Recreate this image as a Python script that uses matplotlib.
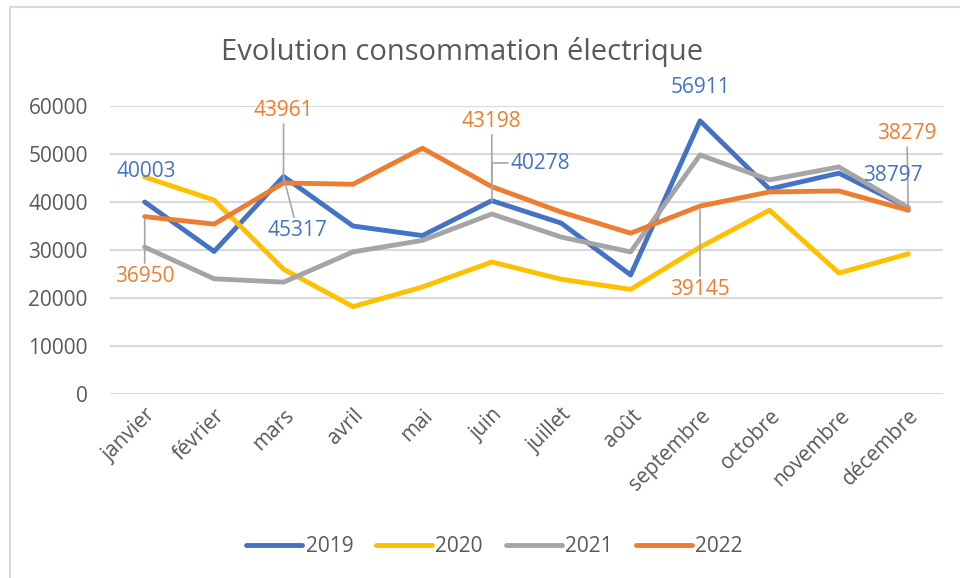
import matplotlib.pyplot as plt
from matplotlib.lines import Line2D

plt.rcParams['font.family'] = ['Open Sans', 'DejaVu Sans']

months = ["janvier", "février", "mars", "avril", "mai", "juin", "juillet",
          "août", "septembre", "octobre", "novembre", "décembre"]
years = ["2019", "2020", "2021", "2022"]
v2019 = [40003, 29700, 45317, 35000, 33000, 40278, 35600, 24800, 56911, 42700, 46000, 38797]
v2020 = [45200, 40400, 26000, 18200, 22300, 27500, 23900, 21800, 30600, 38300, 25200, 29200]
v2021 = [30600, 24000, 23300, 29600, 32000, 37500, 32700, 29600, 49800, 44600, 47300, 38800]
v2022 = [36950, 35400, 43961, 43700, 51200, 43198, 37900, 33500, 39145, 42100, 42300, 38279]
colors = ["#4472C4", "#FFC000", "#A5A5A5", "#ED7D31"]

# labelled points: (series index, month index, text offset in points, leader style)
labels = [
    (0, 0, (1, 22), None),
    (3, 0, (0, -43), "straight"),
    (3, 2, (0, 52), "straight"),
    (0, 2, (10, -39), "straight"),
    (3, 5, (0, 47), "straight"),
    (0, 5, (35, 27), "elbow"),
    (0, 8, (0, 24), None),
    (3, 8, (0, -60), "straight"),
    (3, 11, (-1, 55), "straight"),
    (0, 11, (-11, 23), None),
]

fig = plt.figure(figsize=(9.6, 5.78), dpi=100)
ax = fig.add_axes([110 / 960, 1 - 394 / 578, 833 / 960, 288 / 578])

series = [v2019, v2020, v2021, v2022]
x = list(range(len(months)))
for vals, col, yr in zip(series, colors, years):
    ax.plot(x, vals, color=col, lw=3.5, label=yr,
            solid_joinstyle="round", solid_capstyle="round", zorder=3)

grey = "#A6A6A6"
for si, mi, off, leader in labels:
    val = series[si][mi]
    props = None
    if leader == "straight":
        props = dict(arrowstyle="-", color=grey, lw=1.2, shrinkA=0, shrinkB=2)
    elif leader == "elbow":
        props = dict(arrowstyle="-", color=grey, lw=1.2, shrinkA=0, shrinkB=0,
                     connectionstyle="angle,angleA=0,angleB=90,rad=0")
    ax.annotate(str(val), xy=(mi, val), xytext=off, textcoords="offset points",
                ha="center", va="center", fontsize=15, color=colors[si],
                arrowprops=props, zorder=4)

ax.set_xlim(-0.5, 11.5)
ax.set_ylim(0, 60000)
ax.set_yticks(range(0, 60001, 10000))
ax.yaxis.grid(True, color="#D9D9D9", lw=1.5)
ax.set_axisbelow(True)
for s in ax.spines.values():
    s.set_visible(False)
ax.tick_params(axis="y", length=0, pad=16, labelsize=15, labelcolor="#595959")
ax.tick_params(axis="x", length=0, pad=8, labelsize=15, labelcolor="#595959")
ax.set_xticks(x)
ax.set_xticklabels(months, rotation=45, ha="right", va="top", rotation_mode="anchor")

fig.text(0.481, 1 - 52 / 578, "Evolution consommation électrique",
         ha="center", va="center", fontsize=21, color="#595959")

fig.legend(loc="center", bbox_to_anchor=(0.515, 1 - 547 / 578), ncol=4,
           frameon=False, fontsize=15, handlelength=2.7, handletextpad=0.15,
           columnspacing=1.1, labelcolor="#595959")

fig.add_artist(Line2D([10 / 960, 1], [1 - 7 / 578] * 2, color="#D9D9D9", lw=1.5))
fig.add_artist(Line2D([10 / 960] * 2, [0, 1 - 7 / 578], color="#D9D9D9", lw=1.5))

fig.savefig("out.png", dpi=100)
